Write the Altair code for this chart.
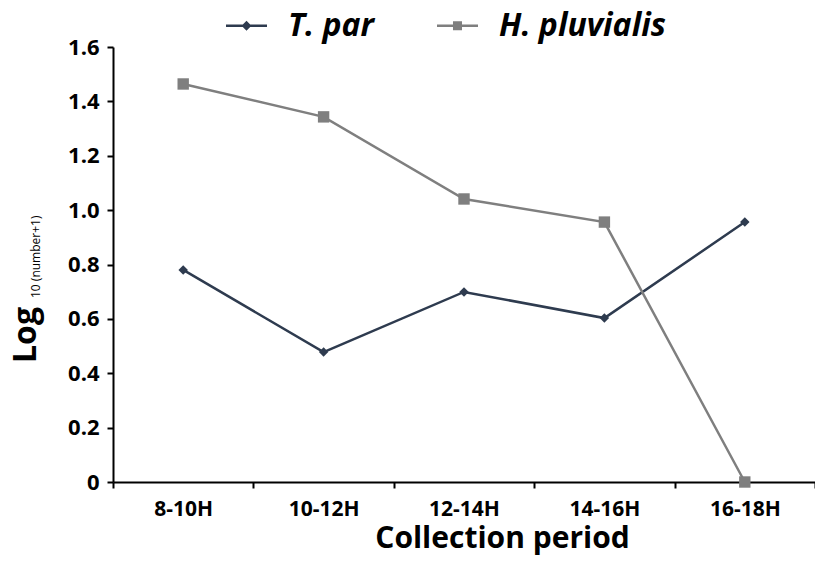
import altair as alt
import pandas as pd

periods = ["8-10H", "10-12H", "12-14H", "14-16H", "16-18H"]
series_names = ["T. par", "H. pluvialis"]
t_par = [0.78, 0.478, 0.699, 0.603, 0.956]
h_pluvialis = [1.464, 1.343, 1.041, 0.956, 0.0]
colors = ["#2e3b4f", "#7f7f7f"]
y_ticks = [0, 0.2, 0.4, 0.6, 0.8, 1.0, 1.2, 1.4, 1.6]

rows = []
for p, v in zip(periods, t_par):
    rows.append({"period": p, "series": series_names[0], "value": v})
for p, v in zip(periods, h_pluvialis):
    rows.append({"period": p, "series": series_names[1], "value": v})
df = pd.DataFrame(rows)

FONT = "Open Sans"

legend_sym = (
    f"datum.value == '{series_names[0]}' ? "
    "'M-1,-0.06H1V0.06H-1ZM-0.24,0L0,-0.24L0.24,0L0,0.24Z' : "
    "'M-1,-0.06H1V0.06H-1ZM-0.22,-0.22H0.22V0.22H-0.22Z'"
)
legend_col = f"datum.value == '{series_names[0]}' ? '{colors[0]}' : '{colors[1]}'"

legend = alt.Legend(
    title=None,
    orient="none",
    direction="horizontal",
    legendX=113,
    legendY=-42,
    labelFont=FONT,
    labelFontSize=32,
    labelFontWeight="bold",
    labelFontStyle="italic",
    labelColor="black",
    labelLimit=400,
    symbolSize=1681,
    symbolStrokeWidth=0,
    symbolType=alt.ExprRef(expr=legend_sym),
    symbolFillColor=alt.ExprRef(expr=legend_col),
    symbolStrokeColor=alt.ExprRef(expr=legend_col),
    symbolOpacity=1,
    labelOffset=21,
    columnPadding=63,
)

x_enc = alt.X(
    "period:N",
    sort=periods,
    scale=alt.Scale(type="band", domain=periods, paddingInner=0, paddingOuter=0),
    axis=alt.Axis(
        title="Collection period",
        tickBand="extent",
        labelAngle=0,
        labelFont=FONT,
        labelFontSize=21,
        labelFontWeight="bold",
        labelColor="black",
        labelPadding=10,
        tickSize=6,
        tickWidth=2,
        tickColor="black",
        domainColor="black",
        domainWidth=2,
        titleFont=FONT,
        titleFontSize=30,
        titleFontWeight="bold",
        titleColor="black",
        titlePadding=4,
        titleX=389,
        titleAlign="center",
        grid=False,
    ),
)
y_enc = alt.Y(
    "value:Q",
    scale=alt.Scale(domain=[0, 1.6], nice=False),
    axis=alt.Axis(
        title=None,
        values=y_ticks,
        labelExpr="datum.value == 0 ? '0' : format(datum.value, '.1f')",
        labelFont=FONT,
        labelFontSize=22,
        labelFontWeight="bold",
        labelColor="black",
        labelPadding=8,
        tickSize=6,
        tickWidth=2,
        tickColor="black",
        domainColor="black",
        domainWidth=2,
        grid=False,
    ),
)
color_enc = alt.Color(
    "series:N",
    scale=alt.Scale(domain=series_names, range=colors),
    sort=series_names,
    legend=legend,
)

base = alt.Chart(df)
lines = base.mark_line(strokeWidth=2.5).encode(x=x_enc, y=y_enc, color=color_enc)
pts_t = base.transform_filter(alt.datum.series == series_names[0]).mark_point(
    shape="diamond", size=90, filled=True, opacity=1, strokeWidth=0, color=colors[0]
).encode(x=x_enc, y=y_enc)
pts_h = base.transform_filter(alt.datum.series == series_names[1]).mark_point(
    shape="square", size=130, filled=True, opacity=1, strokeWidth=0, color=colors[1]
).encode(x=x_enc, y=y_enc)

ytitle_big = alt.Chart(pd.DataFrame({"t": ["Log"]})).mark_text(
    angle=270, align="left", baseline="alphabetic", font=FONT, fontSize=32,
    fontWeight="bold", color="black"
).encode(x=alt.value(-77), y=alt.value(316), text="t:N")
ytitle_small = alt.Chart(pd.DataFrame({"t": ["10 (number+1)"]})).mark_text(
    angle=270, align="left", baseline="alphabetic", font=FONT, fontSize=12,
    color="black"
).encode(x=alt.value(-73), y=alt.value(251), text="t:N")

chart = alt.layer(lines, pts_h, pts_t, ytitle_big, ytitle_small).properties(
    width=702,
    height=435,
    autosize=alt.AutoSizeParams(type="none"),
    padding={"left": 113, "top": 47, "right": 0, "bottom": 80},
    background="white",
).configure_view(stroke=None)

chart.save("out.html", embed_options={"renderer": "svg", "actions": False})
